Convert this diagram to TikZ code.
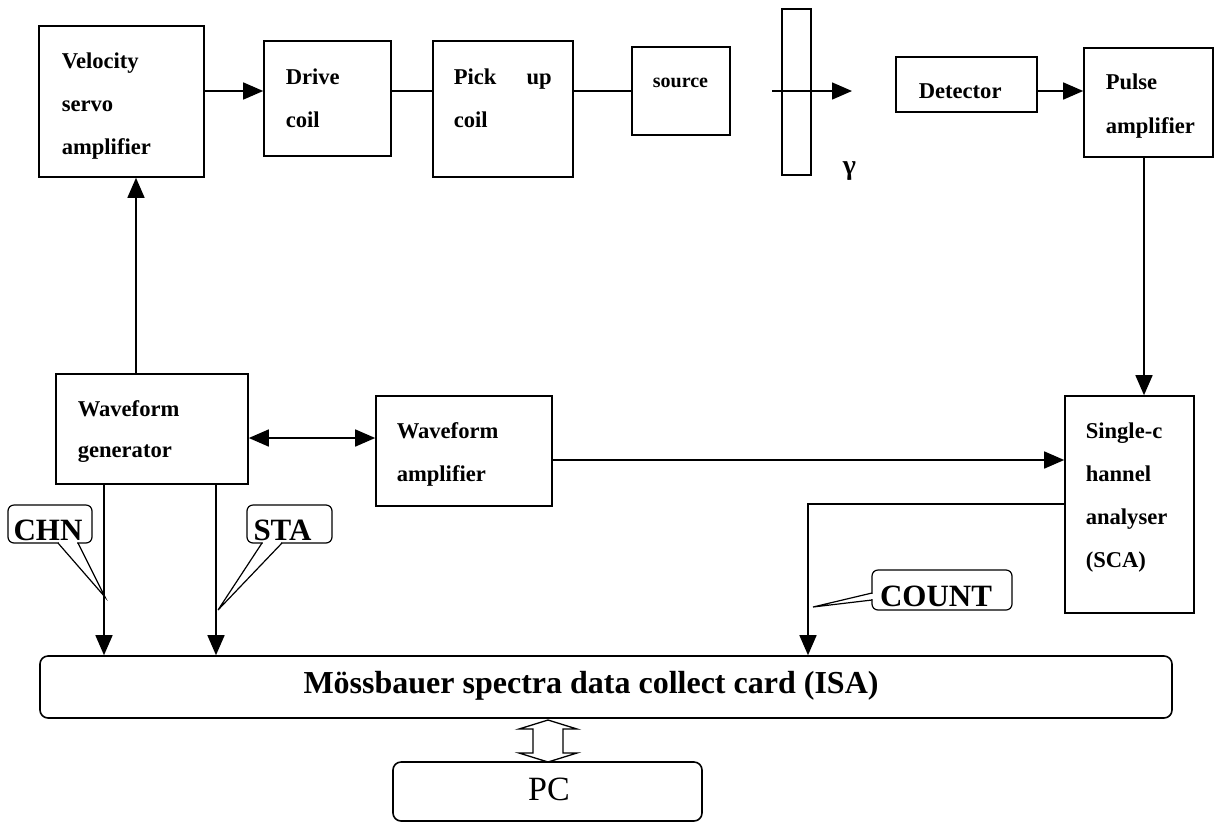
\documentclass[tikz,border=0pt]{standalone}
\usepackage{fontspec}
\setmainfont{Liberation Serif}
\usetikzlibrary{arrows.meta}

\begin{document}
\begin{tikzpicture}[
    x=1pt, y=-1pt,
    >={Triangle[length=20pt,width=17pt]},
    line width=1.5pt,
    blk/.style={draw,rectangle,line width=1.6pt,inner sep=0pt},
    txt/.style={font={\fontsize{22.6}{43}\selectfont\bfseries},inner sep=0pt,align=left,anchor=north west},
    tag/.style={draw,rounded corners=6pt,line width=1.2pt,font={\fontsize{31}{36}\selectfont\bfseries},text height=32pt,text depth=0pt,inner sep=0pt},
    bus/.style={draw,rounded corners=8pt,line width=1.6pt,inner sep=0pt}
]
    \useasboundingbox (0,0) rectangle (1215,823);

    % top row
    \node[blk,minimum width=165,minimum height=151] (vsa) at (121.5,101.5) {};
    \node[blk,minimum width=127,minimum height=115] (drv) at (327.5,98.5) {};
    \node[blk,minimum width=140,minimum height=136] (pck) at (503,109) {};
    \node[blk,minimum width=98,minimum height=88] (src) at (681,91) {};
    \node[blk,minimum width=29,minimum height=166] (abs) at (796.5,92) {};
    \node[blk,minimum width=141,minimum height=55] (det) at (966.5,84.5) {};
    \node[blk,minimum width=129,minimum height=109] (pls) at (1148.5,102.5) {};

    \node[txt] (vsa-t) at (61,52) {Velocity\\servo\\amplifier};
    \node[txt] (drv-t) at (285,68) {Drive\\coil};
    \node[txt,text width=98] (pck-t) at (453,68) {Pick\hfill up\\coil};
    \node[font={\fontsize{20}{24}\selectfont\bfseries},inner sep=0pt,anchor=base] (src-t) at (680.5,87) {source};
    \node[font={\fontsize{22.6}{27}\selectfont\bfseries},inner sep=0pt,anchor=base west] (det-t) at (918,98) {Detector};
    \node[txt,font={\fontsize{22.6}{44}\selectfont\bfseries}] (pls-t) at (1105,73) {Pulse\\amplifier};
    \node[font={\fontsize{28}{32}\selectfont\bfseries},inner sep=0pt,anchor=base west] (gam-t) at (842,174) {γ};

    % middle row
    \node[blk,minimum width=192,minimum height=110] (wgn) at (152,429) {};
    \node[blk,minimum width=176,minimum height=110] (wam) at (464,451) {};
    \node[blk,minimum width=129,minimum height=217] (sca) at (1129.5,504.5) {};

    \node[txt,font={\fontsize{22.6}{41}\selectfont\bfseries}] (wgn-t) at (77,400) {Waveform\\generator};
    \node[txt] (wam-t) at (396,422) {Waveform\\amplifier};
    \node[txt] (sca-t) at (1085,422) {Single-c\\hannel\\analyser\\(SCA)};

    % bottom
    \node[bus,minimum width=1132,minimum height=62] (isa) at (606,687) {};
    \node[font={\fontsize{32}{38}\selectfont\bfseries},inner sep=0pt,anchor=base] (isa-t) at (591,693) {Mössbauer spectra data collect card (ISA)};
    \node[bus,minimum width=309,minimum height=59] (pc) at (547.5,791.5) {};
    \node[font={\fontsize{34}{40}\selectfont},inner sep=0pt,anchor=base] (pc-t) at (549,800) {PC};

    % connections
    \draw[->] (vsa.east |- 0,91) -- (drv.west |- 0,91);
    \draw (drv.east |- 0,91) -- (pck.west |- 0,91);
    \draw (pck.east |- 0,91) -- (src.west |- 0,91);
    \coordinate (gin) at (772,91);
    \coordinate (gout) at (852,91);
    \draw[->] (gin) -- (gout);
    \draw[->] (det.east |- 0,91) -- (pls.west |- 0,91);
    \draw[->] (1144,0 |- pls.south) -- (1144,0 |- sca.north);
    \draw[->] (136,0 |- wgn.north) -- (136,0 |- vsa.south);
    \draw[<->] (wgn.east |- 0,438) -- (wam.west |- 0,438);
    \draw[->] (wam.east |- 0,460) -- (sca.west |- 0,460);
    \draw[->] (sca.west |- 0,504) -- (808,504) -- (808,0 |- isa.north);
    \draw[->] (104,0 |- wgn.south) -- (104,0 |- isa.north);
    \draw[->] (216,0 |- wgn.south) -- (216,0 |- isa.north);

    % isa <-> pc
    \draw[line width=1.3pt] (548,720) -- ++(29,9) -- ++(-14,0) -- ++(0,24) -- ++(14,0)
        -- (548,762) -- ++(-29,-9) -- ++(14,0) -- ++(0,-24) -- ++(-14,0) -- cycle;

    % callouts
    \node[tag,minimum width=84,minimum height=38] (chn) at (50,524) {CHN\hspace*{4pt}};
    \fill[white] (59,541) rectangle (77,545);
    \draw[line width=1.2pt] (58,543) -- (105,597) -- (78,543);

    \node[tag,minimum width=85,minimum height=38] (sta) at (289.5,524) {STA\hspace*{14pt}};
    \fill[white] (263,541) rectangle (281,545);
    \draw[line width=1.2pt] (262,543) -- (218,610) -- (282,543);

    \node[tag,minimum width=140,minimum height=40] (cnt) at (942,590) {COUNT\hspace*{12pt}};
    \fill[white] (870,594) rectangle (874,599);
    \draw[line width=1.2pt] (872,593) -- (813,607) -- (872,600);

\end{tikzpicture}
\end{document}
